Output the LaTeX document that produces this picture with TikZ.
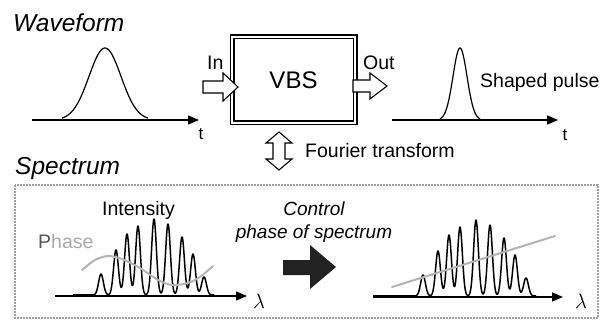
\documentclass[tikz,border=0pt]{standalone}
\usepackage{fontspec}
\setmainfont{Liberation Sans}
\usetikzlibrary{arrows.meta}
\definecolor{phdark}{HTML}{555555}
\definecolor{phlight}{HTML}{A8A8A8}
\definecolor{phline}{HTML}{B4B4B4}
\definecolor{blk}{HTML}{222222}
\definecolor{frame}{HTML}{A0A0A0}
\begin{document}
\begin{tikzpicture}[x=1pt,y=-1pt,
  declare function={pk(\z)=exp(-0.5*\z*\z);},
  axis/.style={line width=1.3pt,-{Triangle[length=11pt,width=9pt]}},
  curve/.style={line width=1.2pt},
  speccurve/.style={line width=1.5pt,line join=round},
  lbl/.style={inner sep=0pt,anchor=base west,font=\fontsize{19.5}{21}\selectfont},
  ttl/.style={inner sep=0pt,anchor=base west,font=\fontsize{24.5}{26}\selectfont\itshape},
  ctl/.style={inner sep=0pt,anchor=base,font=\fontsize{19}{21}\selectfont\itshape},
  small/.style={inner sep=0pt,font=\fontsize{17}{18}\selectfont},
  lam/.style={inner sep=0pt,font=\fontsize{20}{20}\selectfont},
  hollow/.style={draw,fill=white,line width=1.1pt,line join=miter},
  phase/.style={phline,line width=2pt,line cap=round}
]
\useasboundingbox (0,0) rectangle (601,320);

% titles
\node[ttl] (wave) at (13,32) {Waveform};
\node[ttl] (spec) at (15,175) {Spectrum};

% left pulse
\coordinate (a1s) at (32,120);
\coordinate (a1e) at (199,120);
\draw[axis] (a1s) -- (a1e);
\draw[curve] plot[domain=62:148,samples=90] (\x,{120-72*pk((\x-105)/16)});
\node[small] (t1) at (201,134) {t};

% VBS box
\node[draw,double,line width=1.2pt,double distance=2.6pt,inner sep=0pt,outer sep=0pt,
      minimum width=123pt,minimum height=86pt,font=\fontsize{24}{26}\selectfont] (vbs) at (293.5,80) {VBS};
\node[lbl] (in) at (207,70) {In};
\node[lbl] (out) at (363,70) {Out};
\draw[hollow] (203,81) -- (223,81) -- (223,73) -- (238,87) -- (223,101) -- (223,93) -- (203,93) -- cycle;
\draw[hollow] (353,80) -- (370,80) -- (370,73) -- (387,86) -- (370,99) -- (370,92) -- (353,92) -- cycle;

% right pulse
\coordinate (a2s) at (392,120);
\coordinate (a2e) at (558,120);
\draw[axis] (a2s) -- (a2e);
\draw[curve] plot[domain=440:480,samples=70] (\x,{120-72*pk((\x-460)/7)});
\node[small] (t2) at (565,135) {t};
\node[lbl] (shaped) at (480,88) {Shaped pulse};

% Fourier transform
\draw[hollow] (279,132) -- (292,143) -- (285,143) -- (285,159) -- (292,159) -- (279,170)
  -- (266,159) -- (273,159) -- (273,143) -- (266,143) -- cycle;
\node[lbl] (ft) at (305,158) {Fourier transform};

% dotted frame
\draw[frame,line width=2pt,dash pattern=on 1.6pt off 1.4pt] (15,185) rectangle (598,318);

% left spectrum
\node[lbl] (int) at (102,215) {Intensity};
\node[lbl] (ph) at (38,248) {\textcolor{phdark}{P}\textcolor{phlight}{hase}};
\coordinate (s1s) at (55,296);
\coordinate (s1e) at (247,296);
\draw[axis] (s1s) -- (s1e);
\draw[speccurve] plot[domain=73:214,samples=420] (\x,{295-21*pk((\x-101)/2.4)-45*pk((\x-116)/2.4)-61*pk((\x-127)/2.4)-69*pk((\x-138)/2.4)-76*pk((\x-154)/2.4)-71*pk((\x-168)/2.4)-58*pk((\x-182)/2.4)-41*pk((\x-193)/2.4)-18*pk((\x-204)/2.4)});
\draw[phase] plot[smooth] coordinates {(82,270) (95,260) (108,256) (122,259) (140,268) (158,280) (172,285) (188,283) (200,277) (213,266)};
\node[lam] (l1) at (259,301) {$\lambda$};

% control
\node[ctl] (ctrl) at (314,215) {Control};
\node[ctl] (ctrl2) at (314,238) {phase of spectrum};
\fill[blk] (283,260) -- (310,260) -- (310,245) -- (336,267) -- (310,289) -- (310,275) -- (283,275) -- cycle;

% right spectrum
\coordinate (s2s) at (373,297);
\coordinate (s2e) at (563,297);
\draw[axis] (s2s) -- (s2e);
\begin{scope}[xshift=322pt,yshift=-1pt]
\draw[speccurve] plot[domain=51:214,samples=460] (\x,{295-21*pk((\x-101)/2.4)-45*pk((\x-116)/2.4)-61*pk((\x-127)/2.4)-69*pk((\x-138)/2.4)-76*pk((\x-154)/2.4)-71*pk((\x-168)/2.4)-58*pk((\x-182)/2.4)-41*pk((\x-193)/2.4)-18*pk((\x-204)/2.4)});
\end{scope}
\draw[phase] (392,287) -- (555,236);
\node[lam] (l2) at (581,301) {$\lambda$};
\end{tikzpicture}
\end{document}
